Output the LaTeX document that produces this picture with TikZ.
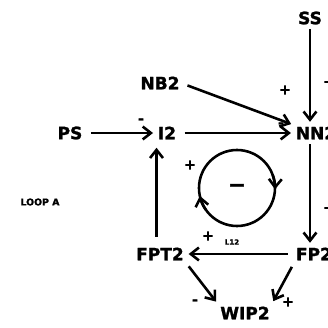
\documentclass[tikz,border=0pt]{standalone}
\usepackage{fontspec}
\setmainfont{DejaVu Sans}[BoldFeatures={FakeBold=1.5}]
\usetikzlibrary{arrows.meta,positioning,calc}

\begin{document}
\begin{tikzpicture}[x=0.03cm, y=0.03cm,
		var/.style={inner sep=1pt, font=\fontsize{14.5}{14.5}\selectfont\bfseries},
		note/.style={inner sep=1pt, font=\fontsize{8}{8}\selectfont\bfseries},
		sign/.style={inner sep=0pt, font=\fontsize{12}{12}\selectfont\bfseries},
		wire/.style={-{Straight Barb[length=7pt, width=11pt, line width=2.2pt]}, line width=2.2pt},
		loopline/.style={line width=2.2pt}]

		\useasboundingbox (0,0) rectangle (328,328);

		% ── Variables ──
		\node[var] (ss) at (310,310) {SS};
		\node[var] (nb2) at (160,245) {NB2};
		\node[var] (ps) at (70,195) {PS};
		\node[var] (i2) at (167,195) {I2};
		\node[var] (nn2) at (316,195) {NN2};
		\node[var] (fp2) at (314,74) {FP2};
		\node[var] (fpt2) at (160,74) {FPT2};
		\node[var] (wip2) at (245,15) {WIP2};

		% ── Labels ──
		\node[note] (loopa) at (40,126) {LOOP A};
		\node[note, font=\fontsize{6}{6}\selectfont\bfseries] (l12) at (232,86) {L12};

		% ── Links ──
		\draw[wire, shorten <=6pt, shorten >=3pt] (ps.east) -- (i2.west);
		\draw[wire, shorten <=6pt, shorten >=3pt] (i2.east) -- (nn2.west);
		\draw[wire, shorten <=6pt, shorten >=3pt] (nb2.east) -- (nn2.north west);
		\draw[wire, shorten <=3pt, shorten >=3pt] (ss.south -| 310,0) -- (nn2.north -| 310,0);
		\draw[wire, shorten <=3pt, shorten >=3pt] (nn2.south -| 310,0) -- (fp2.north -| 310,0);
		\draw[wire, shorten <=6pt, shorten >=3pt] (fp2.west) -- (fpt2.east);
		\draw[wire, shorten <=8pt, shorten >=6pt] (fpt2.north -| i2.west) -- (i2.south -| i2.west);
		\draw[wire, shorten <=5pt, shorten >=4pt] (fpt2.south east) -- (wip2.north west);
		\draw[wire, shorten <=5pt, shorten >=4pt] (fp2.south west) -- (wip2.north east);

		% ── Signs ──
		\node[sign] (s1) at (141,207) {-};
		\node[sign] (s2) at (281,203) {-};
		\node[sign] (s3) at (285,238) {+};
		\node[sign] (s4) at (329,246) {+};
		\node[sign] (s5) at (329,120) {+};
		\node[sign] (s6) at (208,92) {+};
		\node[sign] (s7) at (190,163) {+};
		\node[sign] (s8) at (195,26) {-};
		\node[sign] (s9) at (288,26) {+};

		% ── Loop ──
		\node[draw, circle, loopline, minimum size=2.28cm, inner sep=0pt] (lp) at (237,140) {};
		\node[sign, font=\fontsize{18}{18}\selectfont\bfseries] (lpsign) at (lp.center) {−};
		\draw[wire] ($(lp.center)+(20:1.14cm)$) arc[start angle=20, end angle=-2, radius=1.14cm];
		\draw[wire] ($(lp.center)+(215:1.14cm)$) arc[start angle=215, end angle=192, radius=1.14cm];

	\end{tikzpicture}
\end{document}
